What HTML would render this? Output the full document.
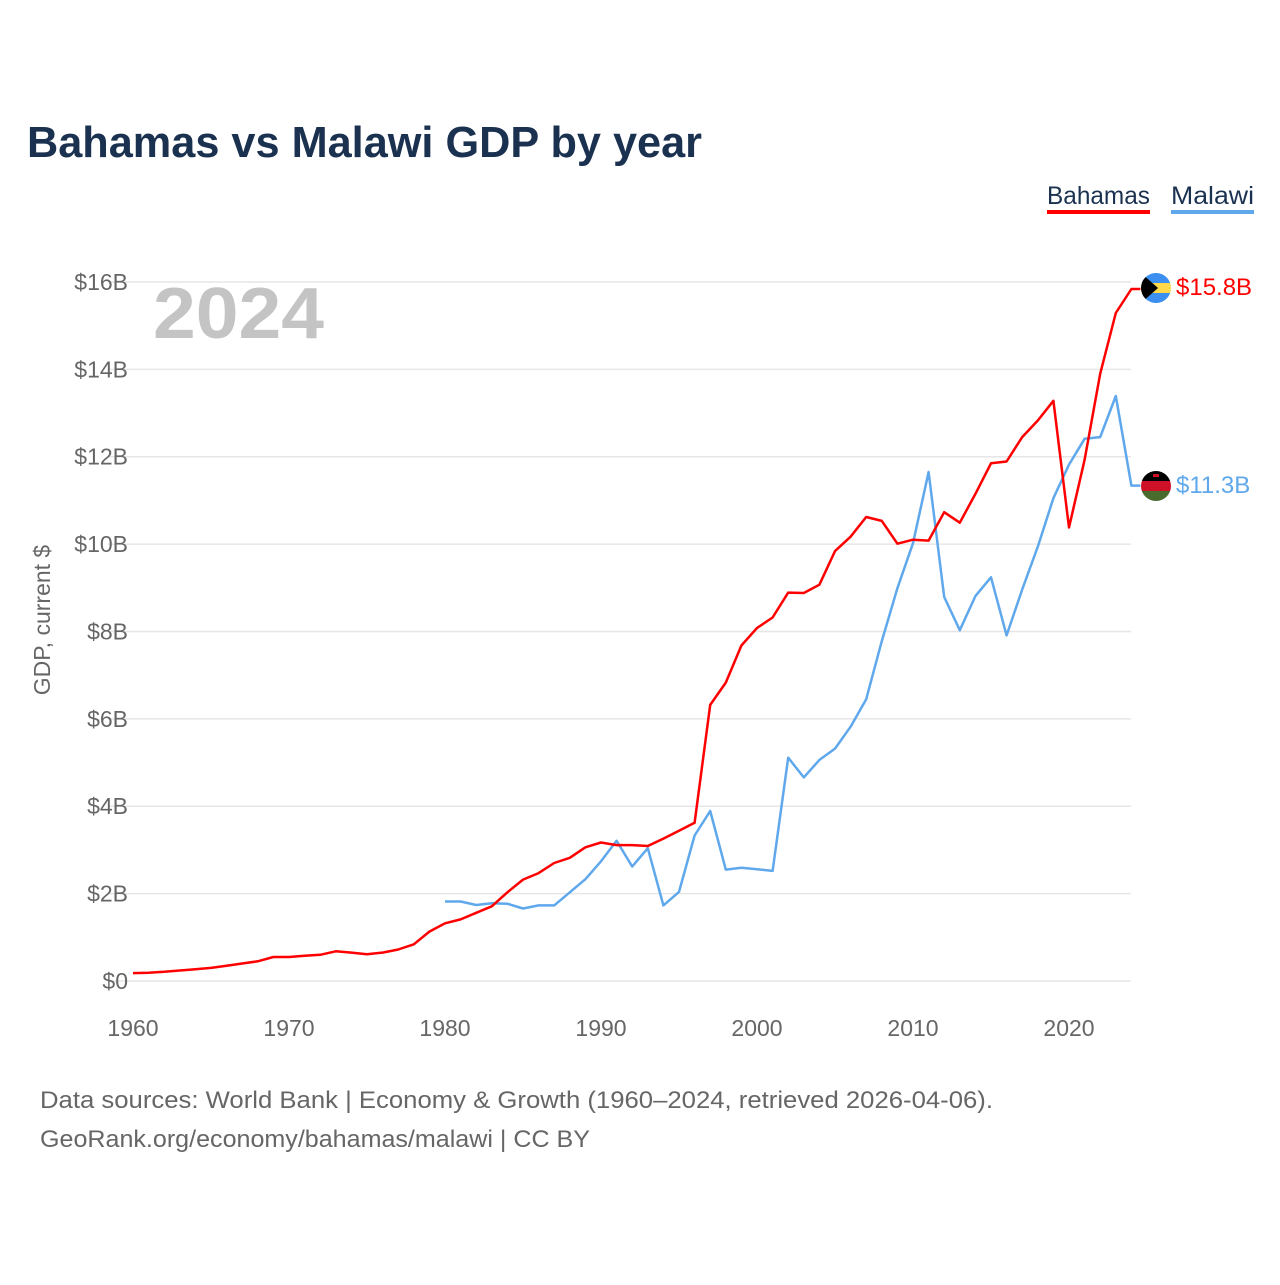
<!DOCTYPE html>
<html><head><meta charset="utf-8"><style>
body{margin:0;background:#fff;font-family:"Liberation Sans",sans-serif;}
svg text{font-family:"Liberation Sans",sans-serif;}
</style></head><body>
<svg width="1280" height="1280" xmlns="http://www.w3.org/2000/svg">
<text x="27" y="157" font-size="44" font-weight="bold" fill="#1b3150" textLength="675" lengthAdjust="spacingAndGlyphs">Bahamas vs Malawi GDP by year</text>
<g>
<text x="1047" y="204" font-size="25" fill="#1b3150" textLength="103" lengthAdjust="spacingAndGlyphs">Bahamas</text>
<rect x="1047" y="210" width="103" height="4" fill="#ff0000"/>
<text x="1171" y="204" font-size="25" fill="#1b3150" textLength="83" lengthAdjust="spacingAndGlyphs">Malawi</text>
<rect x="1171" y="210" width="83" height="4" fill="#5fa8ec"/>
</g>
<text x="153" y="338" font-size="72" font-weight="bold" fill="#c4c4c4" textLength="171" lengthAdjust="spacingAndGlyphs">2024</text>
<g id="grid"></g><g id="ylabels"></g><g id="xlabels"></g><g id="lines"></g>
<text transform="translate(50,620) rotate(-90)" text-anchor="middle" font-size="23" fill="#666">GDP, current $</text>
<g>
<clipPath id="cb"><circle cx="1156" cy="288" r="15"/></clipPath>
<g clip-path="url(#cb)"><rect x="1141" y="273" width="30" height="10" fill="#3b8ff0"/><rect x="1141" y="283" width="30" height="10" fill="#ffd94a"/><rect x="1141" y="293" width="30" height="10" fill="#3b8ff0"/><polygon points="1141,273 1158,288 1141,303" fill="#000"/></g>
<text x="1176" y="295" font-size="24" fill="#ff0000">$15.8B</text></g>
<g>
<clipPath id="cm"><circle cx="1156" cy="486" r="15"/></clipPath>
<g clip-path="url(#cm)"><rect x="1141" y="471" width="30" height="10" fill="#000"/><rect x="1141" y="481" width="30" height="10" fill="#ce1126"/><rect x="1141" y="491" width="30" height="10" fill="#4a6b2e"/><rect x="1153" y="474" width="6" height="3" fill="#ce1126"/></g>
<text x="1176" y="493" font-size="24" fill="#5fa8ec">$11.3B</text></g>
<text x="40" y="1108" font-size="24" fill="#666" textLength="953" lengthAdjust="spacingAndGlyphs">Data sources: World Bank | Economy &amp; Growth (1960–2024, retrieved 2026-04-06).</text>
<text x="40" y="1147" font-size="24" fill="#666" textLength="550" lengthAdjust="spacingAndGlyphs">GeoRank.org/economy/bahamas/malawi | CC BY</text>
</svg>
<script>
const yTicks=[0,2,4,6,8,10,12,14,16];
const yTickLabels=["$0","$2B","$4B","$6B","$8B","$10B","$12B","$14B","$16B"];
const xTicks=[1960,1970,1980,1990,2000,2010,2020];
const bahamasStart=1960;
const bahamas=[0.18,0.19,0.21,0.24,0.27,0.30,0.35,0.40,0.45,0.55,0.55,0.58,0.60,0.68,0.65,0.61,0.65,0.72,0.84,1.13,1.32,1.41,1.56,1.71,2.03,2.32,2.47,2.70,2.82,3.06,3.17,3.11,3.11,3.09,3.26,3.44,3.62,6.32,6.83,7.68,8.08,8.32,8.89,8.88,9.07,9.84,10.17,10.62,10.53,10.01,10.10,10.08,10.73,10.49,11.15,11.85,11.89,12.45,12.83,13.28,10.38,11.93,13.90,15.29,15.84];
const malawiStart=1980;
const malawi=[1.82,1.82,1.74,1.78,1.77,1.66,1.73,1.73,2.03,2.33,2.74,3.21,2.62,3.04,1.73,2.04,3.33,3.89,2.55,2.59,2.56,2.52,5.11,4.66,5.06,5.32,5.82,6.45,7.78,8.99,10.02,11.65,8.79,8.03,8.81,9.24,7.91,8.96,9.94,11.05,11.82,12.41,12.45,13.39,11.34];
const NS="http://www.w3.org/2000/svg";
const xs=y=>133+(y-1960)*15.6;
const ys=v=>981-v*43.69;
function mk(tag,attrs,parent){const e=document.createElementNS(NS,tag);for(const k in attrs)e.setAttribute(k,attrs[k]);document.getElementById(parent).appendChild(e);return e;}
yTicks.forEach((t,i)=>{
 const l=mk('line',{x1:108,x2:1131,y1:ys(t),y2:ys(t),stroke:'#e6e6e6','stroke-width':1.5},'grid');
 
 
 const tx=mk('text',{x:128,y:ys(t)+8,'text-anchor':'end','font-size':23,fill:'#666'},'ylabels');
 tx.textContent=yTickLabels[i];
 
 
});
xTicks.forEach(t=>{
 const tx=mk('text',{x:xs(t),y:1036,'text-anchor':'middle','font-size':23,fill:'#666'},'xlabels');
 tx.textContent=t;
 
 
});
function series(arr,start,color,name){
 let pts=arr.map((v,i)=>xs(start+i).toFixed(1)+','+ys(v).toFixed(1));
 const last=arr[arr.length-1];
 pts.push((xs(start+arr.length-1)+9).toFixed(1)+','+ys(last).toFixed(1));
 const p=mk('polyline',{points:pts.join(' '),fill:'none',stroke:color,'stroke-width':2.5,'stroke-linejoin':'round'},'lines');
 
 
}
series(malawi,malawiStart,'#5fa8ec','malawi-line');
series(bahamas,bahamasStart,'#ff0000','bahamas-line');
</script>
</body></html>
